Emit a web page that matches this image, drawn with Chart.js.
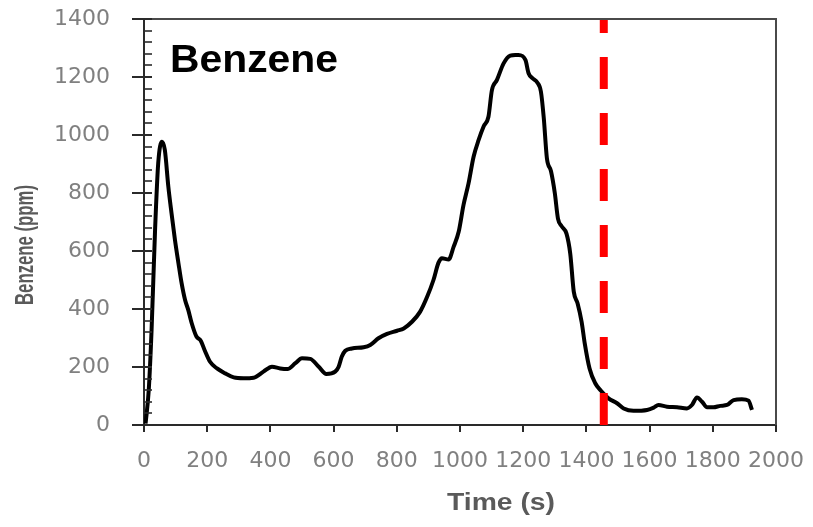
<!DOCTYPE html>
<html><head><meta charset="utf-8">
<script src="https://cdn.jsdelivr.net/npm/chart.js@4.4.1/dist/chart.umd.min.js"></script>
<style>html,body{margin:0;padding:0;background:#fff;}canvas{display:block;}</style>
</head><body>
<canvas id="c" width="813" height="527"></canvas>
<script>
// ---- data ----
const timeSeconds = [5, 15, 24, 35, 45, 57, 66, 77, 87, 98, 109, 119, 130, 140, 151, 166, 180, 193, 209, 231, 257, 284, 315, 347, 378, 405, 431, 454, 479, 500, 526, 553, 577, 605, 616, 626, 637, 658, 695, 716, 742, 769, 801, 822, 848, 874, 896, 916, 932, 943, 964, 980, 996, 1011, 1027, 1043, 1059, 1075, 1090, 1101, 1117, 1138, 1159, 1175, 1185, 1207, 1217, 1230, 1244, 1256, 1265, 1275, 1288, 1300, 1310, 1322, 1337, 1349, 1360, 1372, 1385, 1395, 1410, 1428, 1446, 1470, 1497, 1518, 1549, 1592, 1613, 1628, 1655, 1687, 1718, 1734, 1750, 1766, 1782, 1802, 1824, 1845, 1866, 1892, 1913, 1924];
const benzenePpm  = [5, 120, 328, 672, 903, 977, 948, 822, 731, 638, 558, 489, 431, 397, 351, 305, 290, 255, 218, 195, 178, 164, 161, 163, 184, 201, 195, 193, 213, 230, 228, 201, 176, 184, 201, 236, 256, 264, 268, 276, 299, 314, 325, 333, 356, 391, 442, 500, 560, 575, 571, 615, 667, 758, 833, 925, 983, 1030, 1063, 1155, 1190, 1247, 1274, 1276, 1276, 1259, 1213, 1195, 1182, 1150, 1060, 920, 875, 800, 712, 685, 660, 590, 460, 420, 355, 280, 195, 144, 118, 92, 75, 57, 49, 52, 60, 69, 63, 61, 57, 69, 95, 80, 61, 61, 66, 69, 86, 89, 84, 52];
const cutoffTime = [1455, 1455];
const cutoffPpm  = [0, 1400];
const xTickValues = [0, 200, 400, 600, 800, 1000, 1200, 1400, 1600, 1800, 2000];
const yTickValues = [0, 200, 400, 600, 800, 1000, 1200, 1400];
const yMinorStep = 40;
const chartTitle = 'Benzene';
const xTitle = 'Time (s)';
const yTitle = 'Benzene (ppm)';

const curvePoints = timeSeconds.map((t, i) => ({x: t, y: benzenePpm[i]}));
const cutoffPoints = cutoffTime.map((t, i) => ({x: t, y: cutoffPpm[i]}));

function drawStretched(ctx, text, x, y, font, targetW, yScale, align) {
  ctx.save();
  ctx.font = font;
  const w = ctx.measureText(text).width;
  ctx.translate(x, y);
  ctx.scale(targetW / w, yScale);
  ctx.textAlign = align || 'left';
  ctx.textBaseline = 'alphabetic';
  ctx.fillText(text, 0, 0);
  ctx.restore();
}

const deco = {
  id: 'deco',
  afterDraw(chart) {
    const {ctx, chartArea: a, scales: {x, y}} = chart;
    ctx.save();
    // frame top & right
    ctx.strokeStyle = '#4a4a4a';
    ctx.lineWidth = 2;
    ctx.beginPath();
    ctx.moveTo(a.left, a.top); ctx.lineTo(a.right, a.top); ctx.lineTo(a.right, a.bottom);
    ctx.stroke();
    // y ticks (major out, minor in)
    ctx.strokeStyle = '#2a2a2a';
    for (let v = 0; v <= 1400; v += yMinorStep) {
      const py = Math.round(y.getPixelForValue(v));
      const major = yTickValues.includes(v);
      ctx.lineWidth = major ? 2 : 1.6;
      ctx.beginPath();
      ctx.moveTo(a.left - (major ? 12 : 1), py);
      ctx.lineTo(a.left + 8, py);
      ctx.stroke();
    }
    // x ticks
    ctx.lineWidth = 2;
    xTickValues.forEach(v => {
      const px = Math.round(x.getPixelForValue(v));
      ctx.beginPath();
      ctx.moveTo(px, a.bottom); ctx.lineTo(px, a.bottom + 7);
      ctx.stroke();
    });
    // in-plot title
    ctx.fillStyle = '#000';
    drawStretched(ctx, chartTitle, 170, 72, 'bold 38px "Liberation Sans"', 168, 1, 'left');
    // axis titles
    ctx.fillStyle = '#5a5a5a';
    drawStretched(ctx, xTitle, 447, 510, 'bold 23px "Liberation Sans"', 108, 1, 'left');
    ctx.save();
    ctx.translate(33, 305);
    ctx.rotate(-Math.PI / 2);
    drawStretched(ctx, yTitle, 0, 0, 'bold 19px "Liberation Sans"', 120, 1.35, 'left');
    ctx.restore();
    ctx.restore();
  }
};

new Chart(document.getElementById('c'), {
  type: 'line',
  data: {
    datasets: [
      {data: curvePoints, borderColor: '#000', borderWidth: 4, pointRadius: 0, cubicInterpolationMode: 'monotone', order: 1, fill: false},
      {data: cutoffPoints, borderColor: '#ff0000', borderWidth: 8, borderDash: [32, 24], pointRadius: 0, borderCapStyle: 'butt', order: 0, fill: false}
    ]
  },
  options: {
    responsive: false,
    animation: false,
    devicePixelRatio: 1,
    layout: {padding: {left: 0, right: 37, top: 19, bottom: 0}},
    plugins: {legend: {display: false}, tooltip: {enabled: false}, title: {display: false}},
    scales: {
      x: {
        type: 'linear', min: 0, max: 2000,
        afterBuildTicks: s => { s.ticks = xTickValues.map(v => ({value: v})); },
        afterFit: s => { s.height = 102; s.paddingLeft = 0; s.paddingRight = 0; },
        grid: {display: false},
        border: {display: true, color: '#2a2a2a', width: 2},
        ticks: {autoSkip: false, maxRotation: 0, minRotation: 0, padding: 15, color: '#808080', font: {family: '"DejaVu Sans"', size: 22}, callback: v => String(v)}
      },
      y: {
        type: 'linear', min: 0, max: 1400,
        afterBuildTicks: s => { s.ticks = yTickValues.map(v => ({value: v})); },
        afterFit: s => { s.width = 144; s.paddingTop = 0; s.paddingBottom = 0; },
        grid: {display: false},
        border: {display: true, color: '#2a2a2a', width: 2},
        ticks: {padding: 26, color: '#808080', font: {family: '"DejaVu Sans"', size: 22}, callback: v => String(v)}
      }
    }
  },
  plugins: [deco]
});
</script>
</body></html>
